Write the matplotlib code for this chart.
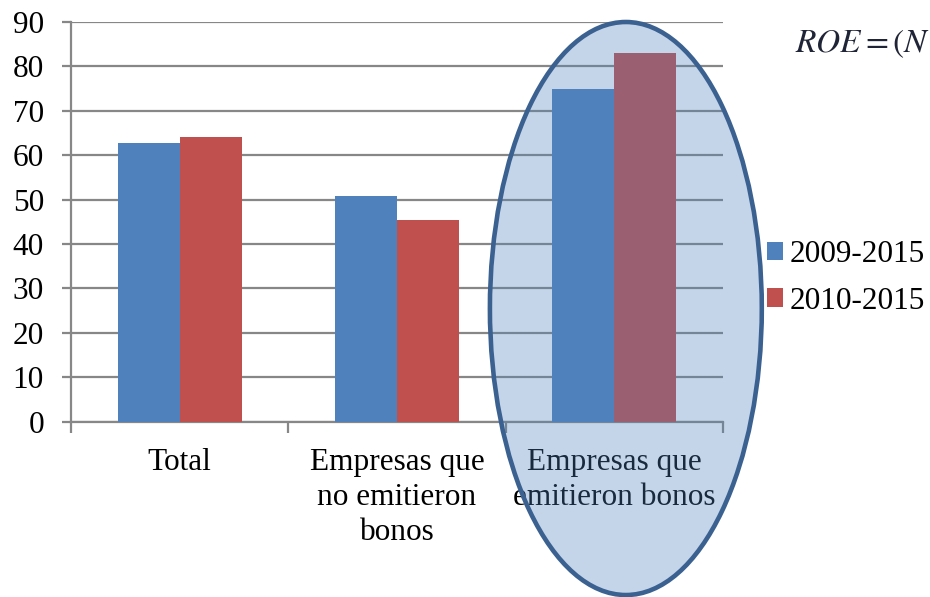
import matplotlib
matplotlib.use("Agg")
import matplotlib.pyplot as plt
from matplotlib.patches import Ellipse, Patch
import numpy as np

# Data
categories = ["Total", "Empresas que\nno emitieron\nbonos", "Empresas que\nemitieron bonos"]
series_names = ["2009-2015", "2010-2015"]
values_2009 = [62.8, 50.7, 75.0]
values_2010 = [64.1, 45.4, 83.0]
y_ticks = [0, 10, 20, 30, 40, 50, 60, 70, 80, 90]

colors = ["#4F81BD", "#C0504D"]
grid_color = "#878787"
font = "Liberation Serif"
fs = 22.5

plt.rcParams["font.family"] = [font, "DejaVu Serif"]
plt.rcParams["mathtext.fontset"] = "stix"

fig = plt.figure(figsize=(9.3, 5.97), dpi=100)
ax = fig.add_axes([71 / 930, 1 - 421.6 / 597, 652 / 930, 399.6 / 597])

x = np.arange(len(categories))
bw = 0.285
ax.bar(x - bw / 2, values_2009, width=bw, color=colors[0], zorder=3)
ax.bar(x + bw / 2, values_2010, width=bw, color=colors[1], zorder=3)

ax.set_xlim(-0.5, 2.5)
ax.set_ylim(0, 90)
ax.set_yticks(y_ticks)
ax.set_yticklabels([str(v) for v in y_ticks], fontsize=fs)
ax.yaxis.grid(True, color=grid_color, linewidth=1.6, zorder=0)
ax.set_axisbelow(True)

ax.set_xticks(x)
ax.set_xticklabels(categories, fontsize=fs, linespacing=1.28)
ax.set_xticks([-0.5, 0.5, 1.5, 2.5], minor=True)
ax.tick_params(axis="x", which="major", length=0, pad=19)
ax.tick_params(axis="x", which="minor", length=8, width=1.6, color=grid_color)
ax.tick_params(axis="y", which="major", length=6.5, width=1.6, color=grid_color, pad=13)

for side in ["top", "right"]:
    ax.spines[side].set_visible(False)
for side in ["left", "bottom"]:
    ax.spines[side].set_color(grid_color)
    ax.spines[side].set_linewidth(1.6)

# Highlight around the bond-issuing group
highlight = Ellipse((0.851, 0.283), width=0.417, height=1.434,
                    transform=ax.transAxes, clip_on=False,
                    facecolor=(0x4F / 255, 0x81 / 255, 0xBD / 255, 0.33),
                    edgecolor="#3B6191", linewidth=3.3, zorder=10)
ax.add_patch(highlight)

handles = [Patch(facecolor=c, edgecolor="none") for c in colors]
fig.legend(handles, series_names, loc="center left",
           bbox_to_anchor=(767 / 930, (597 - 278) / 597),
           frameon=False, fontsize=fs, handlelength=0.52, handleheight=0.52,
           handletextpad=0.2, labelspacing=0.55, borderpad=0, borderaxespad=0)

fig.text(795 / 930, 1 - 52 / 597, r"$\mathbf{\mathit{ROE}}=(\mathbf{\mathit{N}}$", fontsize=24,
         color="#1F2436", ha="left", va="baseline")

fig.savefig("out.png", dpi=100)
